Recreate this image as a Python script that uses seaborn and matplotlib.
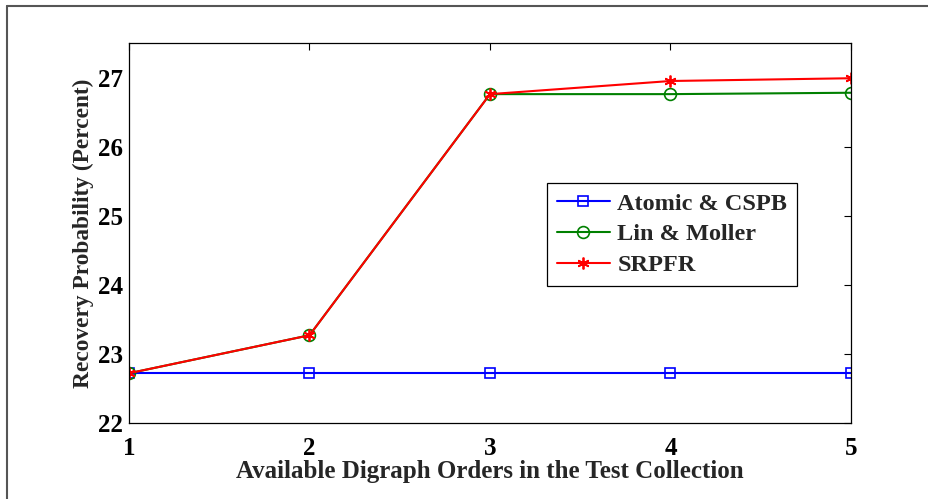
import pandas as pd
import numpy as np
import matplotlib
matplotlib.use("Agg")
import matplotlib.pyplot as plt
import seaborn as sns
from matplotlib.lines import Line2D

# data
orders = [1, 2, 3, 4, 5]
atomic = [22.72, 22.72, 22.72, 22.72, 22.72]
lin_moller = [22.72, 23.27, 26.76, 26.76, 26.78]
srpfr = [22.72, 23.27, 26.76, 26.95, 26.99]

sns.set_style("white")
plt.rcParams["font.family"] = ["Liberation Serif", "DejaVu Serif"]
plt.rcParams["font.weight"] = "bold"

fig = plt.figure(figsize=(9.29, 4.99), dpi=100)
ax = fig.add_axes([129/929, 1 - 423/499, 722/929, 380/499])

sns.lineplot(x=orders, y=atomic, ax=ax, color="#0000ff", marker="s", markersize=7,
             markerfacecolor="none", markeredgecolor="#0000ff", markeredgewidth=1.2,
             linewidth=1.5, label="Atomic & CSPB")
sns.lineplot(x=orders, y=lin_moller, ax=ax, color="#008000", marker="o", markersize=8.5,
             markerfacecolor="none", markeredgecolor="#008000", markeredgewidth=1.2,
             linewidth=1.5, label="Lin & Moller")
sns.lineplot(x=orders, y=srpfr, ax=ax, color="#ff0000", marker=(6, 2, 0), markersize=8.5,
             markeredgecolor="#ff0000", markeredgewidth=1.3,
             linewidth=1.5, label="SRPFR")

ax.set_xlim(1, 5)
ax.set_ylim(22, 27.5)
ax.set_xticks([1, 2, 3, 4, 5])
ax.set_yticks([22, 23, 24, 25, 26, 27])
ax.tick_params(direction="in", length=5, width=0.8, top=True, right=True,
               labelsize=18, colors="black")
ax.tick_params(axis="x", pad=10)
ax.tick_params(axis="y", pad=4)
for lab in ax.get_xticklabels() + ax.get_yticklabels():
    lab.set_fontweight("bold")
for s in ax.spines.values():
    s.set_color("black")
    s.set_linewidth(0.9)

ax.set_xlabel("Available Digraph Orders in the Test Collection", fontsize=18,
              fontweight="bold", labelpad=0)
ax.set_ylabel("Recovery Probability (Percent)", fontsize=16.8, fontweight="bold", labelpad=3)

leg = ax.legend(loc="upper left", bbox_to_anchor=((547-129)/722, (423-183)/380),
                borderaxespad=0, fancybox=False, framealpha=1, edgecolor="black",
                prop={"size": 17.5, "weight": "bold"}, handlelength=2.2,
                handletextpad=0.3, labelspacing=0.36, borderpad=0.4)
leg.get_frame().set_linewidth(0.9)

# outer frame lines (top and left)
fig.add_artist(Line2D([7/929, 1], [1 - 6/499, 1 - 6/499], color="#555555", linewidth=1.5))
fig.add_artist(Line2D([7/929, 7/929], [0, 1 - 6/499], color="#555555", linewidth=1.5))

fig.savefig("out.png", dpi=100)
